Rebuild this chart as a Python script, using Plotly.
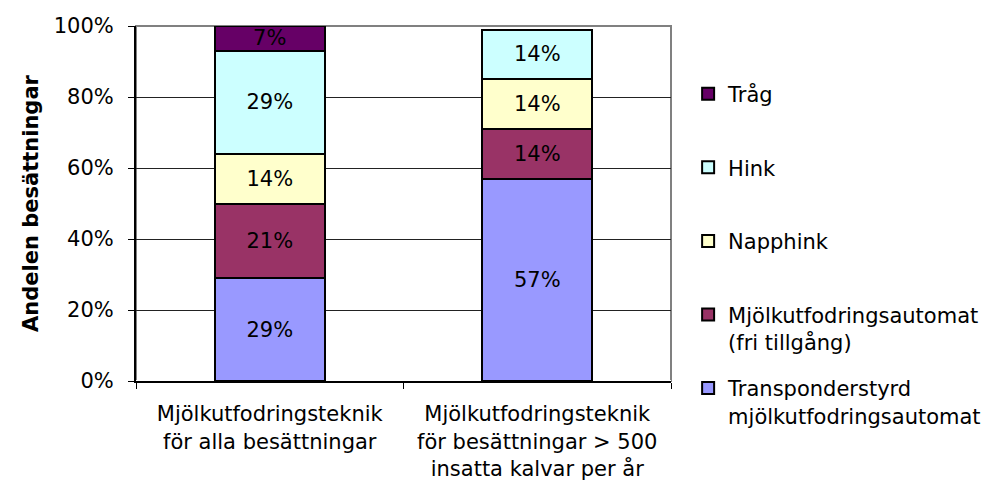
import plotly.graph_objects as go

kategorier = ["Mjölkutfodringsteknik<br>för alla besättningar",
              "Mjölkutfodringsteknik<br>för besättningar &gt; 500<br>insatta kalvar per år"]

# andel besättningar (%) per teknik, nerifrån och upp i stapeln
serier = ["Transponderstyrd<br>mjölkutfodringsautomat",
          "Mjölkutfodringsautomat<br>(fri tillgång)",
          "Napphink<br> ", "Hink<br> ", "Tråg<br> "]
transponder = [29, 57]
automat_fri = [21, 14]
napphink = [14, 14]
hink = [29, 14]
trag = [7, None]
varden = [transponder, automat_fri, napphink, hink, trag]
farger = ["#9999FF", "#993366", "#FFFFCC", "#CCFFFF", "#660066"]

FONT = "DejaVu Sans"
SIZE = 21

fig = go.Figure()
for i in range(len(serier)):
    fig.add_trace(go.Bar(
        x=kategorier, y=varden[i], name=serier[i],
        legendgroup=str(i), legendrank=len(serier) - i,
        marker=dict(color=farger[i], line=dict(color="black", width=2)),
        texttemplate="%{y}", textposition="inside", insidetextanchor="middle",
        textangle=0, insidetextfont=dict(color="black", size=SIZE, family=FONT),
        width=0.41, hoverinfo="skip"))

# sidan har 8 px marginal i webbläsaren, därför 991x488
fig.update_layout(
    barmode="stack",
    width=991, height=488,
    margin=dict(l=128, r=324, t=18, b=115),
    paper_bgcolor="white", plot_bgcolor="white",
    font=dict(family=FONT, size=SIZE, color="black"),
    uniformtext=dict(minsize=SIZE, mode="show"),
    showlegend=True,
    legend=dict(x=1.032, y=0.866, xanchor="left", yanchor="top",
                traceorder="grouped", tracegroupgap=16, maxheight=460,
                valign="top", font=dict(size=SIZE, family=FONT)),
    shapes=[dict(type="rect", xref="x domain", yref="y domain",
                 x0=0, x1=1, y0=0, y1=1, line=dict(color="#808080", width=2),
                 layer="below")],
)
fig.update_xaxes(showline=True, linecolor="black", linewidth=2, automargin=False,
                 ticks="outside", tickson="boundaries", ticklen=6, tickcolor="black",
                 ticklabelstandoff=13, showgrid=False)
fig.update_yaxes(range=[0, 100], dtick=20, ticksuffix="%", automargin=False,
                 showline=True, linecolor="black", linewidth=2,
                 ticks="outside", ticklen=6, tickcolor="black", ticklabelstandoff=10,
                 showgrid=True, gridcolor="#222222", gridwidth=1,
                 title=dict(text="<b>Andelen besättningar</b>", standoff=9,
                            font=dict(size=SIZE, family=FONT)))

fig.write_html("out.html")
